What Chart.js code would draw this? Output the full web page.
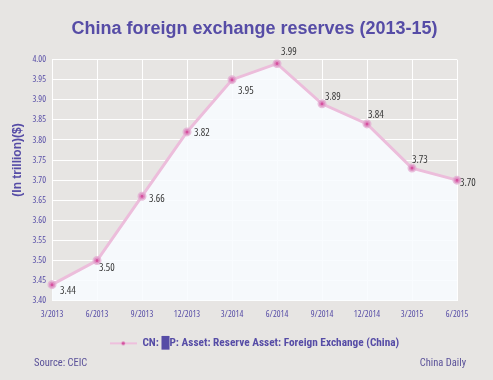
<!DOCTYPE html>
<html>
<head>
<meta charset="utf-8">
<script src="https://cdn.jsdelivr.net/npm/chart.js@4"></script>
<style>
  html, body { margin: 0; padding: 0; background: #e7e5e3; }
  #wrap { width: 493px; height: 380px; }
</style>
</head>
<body>
<div id="wrap"><canvas id="myChart" width="493" height="380"></canvas></div>
<script>
const months = ['3/2013','6/2013','9/2013','12/2013','3/2014','6/2014','9/2014','12/2014','3/2015','6/2015'];
const reserves = [3.44, 3.50, 3.66, 3.82, 3.95, 3.99, 3.89, 3.84, 3.73, 3.70];
const yTicks = [3.40, 3.45, 3.50, 3.55, 3.60, 3.65, 3.70, 3.75, 3.80, 3.85, 3.90, 3.95, 4.00];
const seriesName = 'CN: \u2588P: Asset: Reserve Asset: Foreign Exchange (China)';

// where each value label sits relative to its point (px)
const labelOffsets = [[8,6],[2,7],[7,3],[7,1],[6,11],[4,-12],[3,-7],[1,-9],[0,-8],[3,3]];

const purple = '#564ca6';
const openSans = "'Open Sans', sans-serif";
const robotoC = "'Roboto Condensed', 'Open Sans', sans-serif";

// little line+dot swatch for the legend
const swatch = document.createElement('canvas');
swatch.width = 27; swatch.height = 8;
(() => {
    const c = swatch.getContext('2d');
    c.strokeStyle = '#eebfdd';
    c.lineWidth = 2;
    c.beginPath(); c.moveTo(0, 4); c.lineTo(27, 4); c.stroke();
    c.fillStyle = '#d4509f';
    c.beginPath(); c.arc(13.5, 4, 1.8, 0, Math.PI * 2); c.fill();
})();

const extras = {
    id: 'extras',
    afterDatasetsDraw(chart) {
        const {ctx} = chart;
        const meta = chart.getDatasetMeta(0);
        ctx.save();
        ctx.font = "condensed 10.5px " + openSans;
        ctx.fillStyle = '#383838';
        ctx.textAlign = 'left';
        ctx.textBaseline = 'middle';
        meta.data.forEach((pt, i) => {
            const [dx, dy] = labelOffsets[i];
            ctx.fillText(reserves[i].toFixed(2), pt.x + dx, pt.y + dy);
        });
        ctx.restore();
    },
    afterDraw(chart) {
        const {ctx} = chart;
        ctx.save();
        // y axis title
        ctx.translate(18, 160);
        ctx.rotate(-Math.PI / 2);
        ctx.font = "bold 12px 'Liberation Sans', Arial, sans-serif";
        ctx.fillStyle = purple;
        ctx.textAlign = 'center';
        ctx.textBaseline = 'middle';
        ctx.fillText('(In trillion)($)', 0, 0);
        ctx.restore();

        ctx.save();
        ctx.font = "10.5px " + robotoC;
        ctx.fillStyle = '#5a5199';
        ctx.textBaseline = 'middle';
        ctx.textAlign = 'left';
        ctx.fillText('Source: CEIC', 34, 363);
        ctx.textAlign = 'right';
        ctx.fillText('China Daily', 466, 363);
        ctx.restore();
    }
};

const ctx = document.getElementById('myChart').getContext('2d');
const myChart = new Chart(ctx, {
    type: 'line',
    data: {
        labels: months,
        datasets: [{
            label: seriesName,
            data: reserves,
            borderColor: '#ecbddb',
            borderWidth: 3,
            fill: 'start',
            backgroundColor: 'rgba(248,252,255,0.88)',
            pointRadius: 3,
            pointBackgroundColor: '#d6509f',
            pointBorderColor: 'rgba(226,170,208,0.75)',
            pointBorderWidth: 3,
            pointStyle: 'circle',
            tension: 0
        }]
    },
    options: {
        responsive: false,
        animation: false,
        layout: {
            padding: {top: 0, right: 36, bottom: 21, left: 0}
        },
        scales: {
            x: {
                offset: false,
                grid: {
                    color: '#ffffff',
                    lineWidth: 1,
                    drawTicks: false
                },
                border: { display: false },
                ticks: {
                    color: purple,
                    // weight slot carries the font-stretch keyword
                    font: { family: openSans, size: 9, weight: 'condensed' },
                    padding: 8,
                    maxRotation: 0,
                    autoSkip: false
                },
                afterFit: (scale) => { scale.height = 27; }
            },
            y: {
                min: 3.40,
                max: 4.00,
                afterBuildTicks: (scale) => {
                    scale.ticks = yTicks.map(v => ({value: v}));
                },
                grid: {
                    color: '#ffffff',
                    lineWidth: 1,
                    drawTicks: false
                },
                border: { display: true, color: '#ffffff', width: 1 },
                ticks: {
                    color: purple,
                    font: { family: openSans, size: 9, weight: 'condensed' },
                    padding: 6,
                    callback: (v) => Number(v).toFixed(2)
                },
                afterFit: (scale) => { scale.width = 52; }
            }
        },
        plugins: {
            title: {
                display: true,
                fullSize: false,
                text: 'China foreign exchange reserves (2013-15)',
                color: purple,
                font: { family: "'Liberation Sans', Arial, sans-serif", size: 18, weight: 'bold', lineHeight: 1.2 },
                padding: { top: 18, bottom: 20 }
            },
            legend: {
                position: 'bottom',
                fullSize: false,
                labels: {
                    usePointStyle: true,
                    pointStyle: swatch,
                    pointStyleWidth: 27,
                    color: purple,
                    font: { family: robotoC, size: 11.3, weight: 'bold' },
                    padding: 10
                }
            },
            tooltip: { enabled: false }
        }
    },
    plugins: [extras]
});
</script>
</body>
</html>
